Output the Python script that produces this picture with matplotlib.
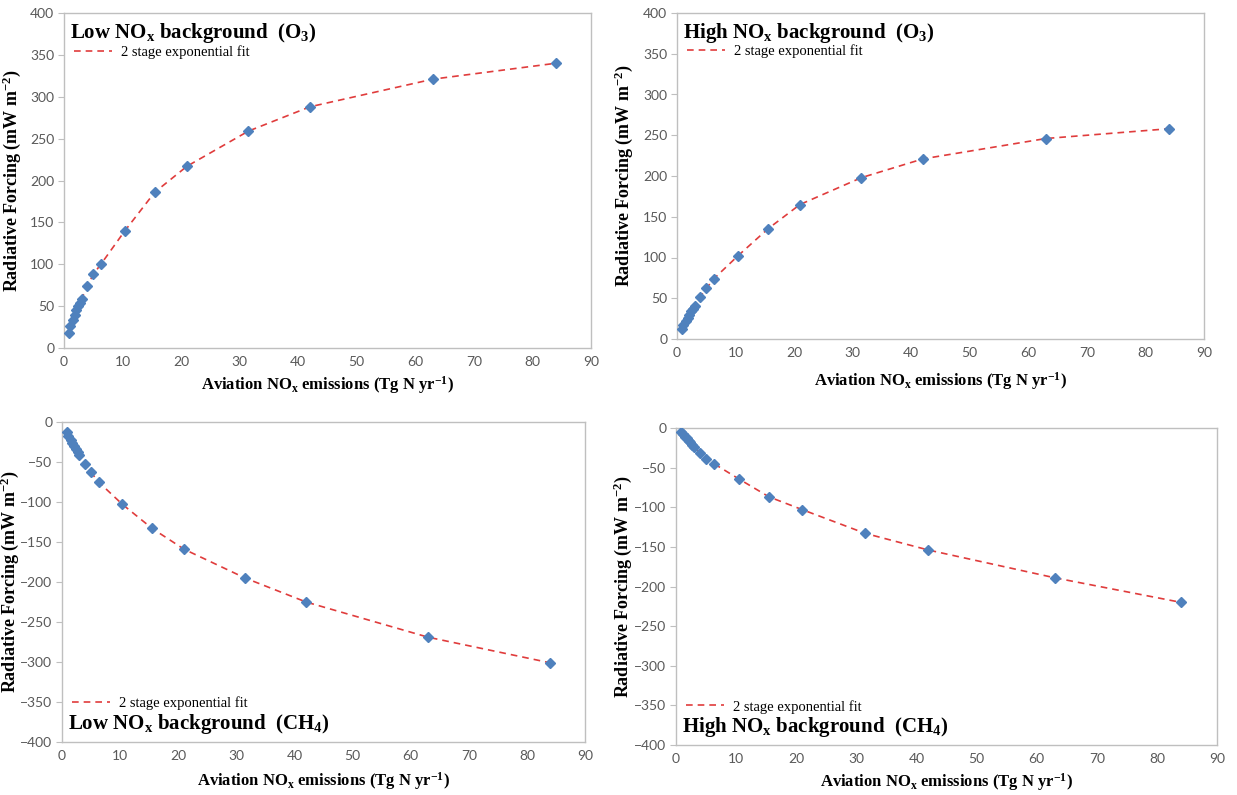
import numpy as np
import matplotlib
matplotlib.use('Agg')
import matplotlib.pyplot as plt

plt.rcParams['mathtext.fontset'] = 'custom'
plt.rcParams['mathtext.rm'] = 'Liberation Serif'
plt.rcParams['mathtext.it'] = 'Liberation Serif:italic'
plt.rcParams['mathtext.bf'] = 'Liberation Serif:bold'

# aviation NOx emissions (Tg N / yr)
emis = [0.8, 1.1, 1.5, 1.8, 2.1, 2.4, 2.7, 3.0, 4.0, 5.0, 6.3, 10.4, 15.5, 21, 31.5, 42, 63, 84]

# radiative forcing (mW m-2)
o3_low = [18, 26, 34, 40, 45, 50, 54, 59, 74, 88, 100, 140, 186, 217, 259, 288, 321, 340]
o3_high = [12, 17, 22, 26, 30, 34, 37, 41, 52, 62, 74, 102, 135, 165, 198, 221, 246, 258]
ch4_low = [-12, -17, -22, -26, -30, -34, -37, -41, -52, -63, -75, -103, -133, -159, -195, -225, -269, -301]
ch4_high = [-5, -8, -11, -13, -16, -18, -21, -24, -31, -39, -45, -64, -87, -103, -133, -154, -189, -220]

W, H = 1237, 795
SERIF = 'Liberation Serif'
GREY = '#595959'


def box(l, r, t, b):
    return [l / W, 1 - b / H, (r - l) / W, (b - t) / H]


def panel(rect, y, ylim, title, top, ylab_x, xlab_y):
    ax = fig.add_axes(rect)
    line, = ax.plot(emis, y, ls=(0, (4, 3)), color='#E03C3C', lw=1.2, zorder=2,
                    label='2 stage exponential fit')
    ax.plot(emis, y, ls='none', marker='D', ms=5, color='#4F81BD', zorder=3)
    ax.set_xlim(0, 90)
    ax.set_ylim(*ylim)
    ax.set_xticks(np.arange(0, 91, 10))
    ax.set_yticks(np.arange(ylim[0], ylim[1] + 1, 50))
    for s in ax.spines.values():
        s.set_color('#BFBFBF')
        s.set_linewidth(1.0)
    ax.tick_params(axis='y', length=4, color='#BFBFBF', labelsize=10, labelcolor=GREY, pad=3)
    ax.tick_params(axis='x', length=0, labelsize=10, labelcolor=GREY, pad=6)
    for lab in ax.get_xticklabels() + ax.get_yticklabels():
        lab.set_family('Lato')
    if top:
        ax.text(0.012, 0.975, title, transform=ax.transAxes, ha='left', va='top',
                family=SERIF, fontweight='bold', fontsize=15)
        leg_loc = (0.0, 0.935)
    else:
        ax.text(0.012, 0.02, title, transform=ax.transAxes, ha='left', va='bottom',
                family=SERIF, fontweight='bold', fontsize=15)
        leg_loc = (0.0, 0.175)
    ax.legend(handles=[line], loc='upper left', bbox_to_anchor=leg_loc, frameon=False,
              prop={'family': SERIF, 'size': 10.5}, handlelength=2.6, handletextpad=0.6,
              borderaxespad=0.3)
    pos = ax.get_position()
    fig.text(ylab_x / W, (pos.y0 + pos.y1) / 2, 'Radiative Forcing (mW m$^{\\mathbf{-2}}$)',
             rotation=90, ha='center', va='center', family=SERIF, fontweight='bold', fontsize=13)
    fig.text((pos.x0 + pos.x1) / 2, 1 - xlab_y / H,
             'Aviation NO$_\\mathbf{x}$ emissions (Tg N yr$^{\\mathbf{-1}}$)',
             ha='center', va='center', family=SERIF, fontweight='bold', fontsize=12)
    return ax


fig = plt.figure(figsize=(W / 100, H / 100), dpi=100)

panel(box(64, 591, 13, 348), o3_low, (0, 400),
      'Low NO$_\\mathbf{x}$ background  (O$_\\mathbf{3}$)', True, 12, 385)
panel(box(677, 1204, 13, 339), o3_high, (0, 400),
      'High NO$_\\mathbf{x}$ background  (O$_\\mathbf{3}$)', True, 624, 381)
panel(box(62, 585, 422, 742), ch4_low, (-400, 0),
      'Low NO$_\\mathbf{x}$ background  (CH$_\\mathbf{4}$)', False, 10, 781)
panel(box(676, 1217, 428, 745), ch4_high, (-400, 0),
      'High NO$_\\mathbf{x}$ background  (CH$_\\mathbf{4}$)', False, 623, 782)

fig.savefig('out.png', dpi=100)
